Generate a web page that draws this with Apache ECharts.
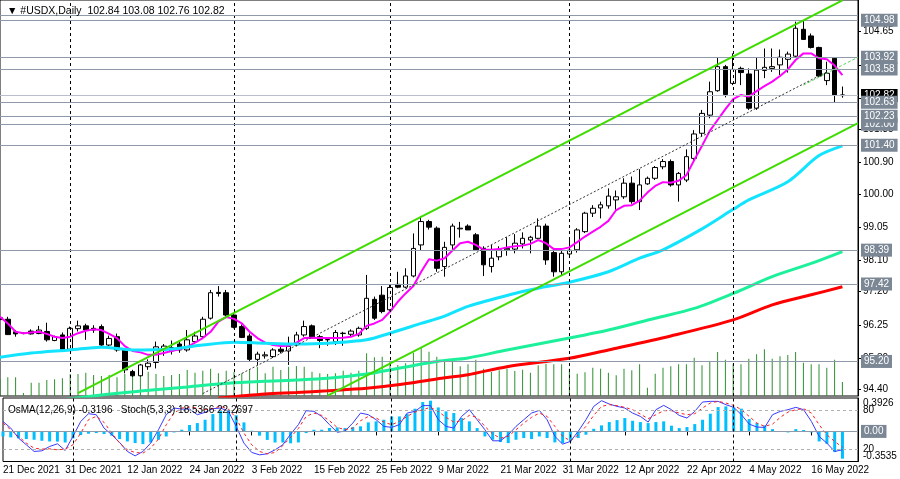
<!DOCTYPE html>
<html>
<head>
<meta charset="utf-8">
<script src="https://cdn.jsdelivr.net/npm/echarts@6/dist/echarts.min.js"></script>
<style>
html, body { margin: 0; padding: 0; background: #fff; }
#main { width: 900px; height: 479px; }
</style>
</head>
<body>
<div id="main"></div>
<script>
// trading days shown on the chart
var dec21 = [21, 22, 23, 24, 27, 28, 29, 30, 31];
var jan22 = [3, 4, 5, 6, 7, 10, 11, 12, 13, 14, 17, 18, 19, 20, 21, 24, 25, 26, 27, 28, 31];
var feb22 = [1, 2, 3, 4, 7, 8, 9, 10, 11, 14, 15, 16, 17, 18, 21, 22, 23, 24, 25, 28];
var mar22 = [1, 2, 3, 4, 7, 8, 9, 10, 11, 14, 15, 16, 17, 18, 21, 22, 23, 24, 25, 28, 29, 30, 31];
var apr22 = [1, 4, 5, 6, 7, 8, 11, 12, 13, 14, 15, 18, 19, 20, 21, 22, 25, 26, 27, 28, 29];
var may22 = [2, 3, 4, 5, 6, 9, 10, 11, 12, 13, 16, 17, 18, 19, 20];

var dates = [].concat(
    dec21.map(function (d) { return d + ' Dec 2021'; }),
    jan22.map(function (d) { return d + ' Jan 2022'; }),
    feb22.map(function (d) { return d + ' Feb 2022'; }),
    mar22.map(function (d) { return d + ' Mar 2022'; }),
    apr22.map(function (d) { return d + ' Apr 2022'; }),
    may22.map(function (d) { return d + ' May 2022'; })
);
var categories = dates.concat([' ', '  ']);   // empty room on the right

var opens = [
    96.45, 96.41, 96.05, 96.00, 96.07, 96.00, 96.06, 95.80, 95.96, 95.55,
    96.14, 96.22, 96.15, 96.20, 95.67, 95.91, 95.53, 94.91, 94.79, 95.05,
    95.17, 95.53, 95.50, 95.70, 95.53, 95.77, 95.91, 96.44, 97.18, 97.17,
    96.53, 96.20, 95.93, 95.26, 95.36, 95.34, 95.55, 95.50, 95.67, 95.96,
    96.22, 95.91, 95.82, 95.77, 96.00, 95.98, 95.96, 96.15, 96.98, 97.10,
    96.68, 97.41, 97.33, 97.65, 98.54, 99.21, 99.02, 97.92, 98.54, 99.00,
    99.08, 98.83, 98.44, 97.92, 98.20, 98.40, 98.42, 98.57, 98.68, 98.73,
    99.08, 98.32, 97.77, 98.28, 98.40, 98.92, 99.45, 99.60, 99.66, 99.83,
    99.92, 100.31, 99.78, 100.29, 100.45, 100.78, 100.93, 100.26, 100.40, 101.02,
    101.74, 102.26, 102.96, 103.65, 103.17, 103.60, 103.44, 102.46, 103.54, 103.60,
    103.70, 103.86, 103.95, 104.72, 104.53, 104.20, 103.25, 103.89, 102.84
];
var highs = [
    96.55, 96.48, 96.10, 96.03, 96.12, 96.22, 96.31, 95.94, 96.03, 96.20,
    96.37, 96.28, 96.24, 96.26, 95.94, 96.00, 95.57, 94.96, 95.13, 95.26,
    95.77, 95.70, 95.80, 95.77, 96.10, 96.05, 96.48, 97.25, 97.36, 97.25,
    96.57, 96.26, 96.00, 95.48, 95.48, 95.58, 95.64, 95.91, 96.05, 96.37,
    96.26, 95.96, 95.87, 96.10, 96.05, 96.12, 96.20, 97.68, 97.06, 97.36,
    97.40, 97.77, 97.87, 98.87, 99.37, 99.26, 99.07, 98.63, 99.15, 99.20,
    99.13, 98.88, 98.50, 98.54, 98.50, 98.76, 98.85, 98.90, 98.80, 99.30,
    99.15, 98.40, 98.40, 98.70, 99.02, 99.49, 99.68, 99.78, 100.16, 100.10,
    100.45, 100.50, 100.71, 100.50, 100.80, 101.00, 100.99, 100.63, 101.28, 101.83,
    102.41, 103.22, 103.92, 103.70, 104.03, 103.65, 103.60, 103.92, 104.17, 104.17,
    104.14, 104.08, 104.94, 104.98, 104.60, 104.22, 103.79, 103.92, 103.08
];
var lows = [
    96.30, 95.96, 95.91, 95.98, 95.97, 95.98, 95.77, 95.78, 95.53, 95.53,
    96.06, 95.82, 96.02, 95.64, 95.64, 95.48, 94.86, 94.76, 94.77, 94.96,
    95.00, 95.36, 95.40, 95.45, 95.48, 95.74, 95.86, 96.40, 97.06, 96.48,
    96.15, 95.87, 95.19, 95.10, 95.28, 95.30, 95.43, 95.10, 95.63, 95.91,
    95.87, 95.58, 95.65, 95.67, 95.65, 95.91, 95.91, 96.10, 96.39, 96.58,
    96.63, 97.30, 97.30, 97.61, 98.39, 98.98, 97.77, 97.63, 98.39, 98.75,
    98.97, 98.37, 97.65, 97.75, 98.10, 98.23, 98.30, 98.44, 98.30, 98.70,
    97.97, 97.63, 97.66, 98.25, 98.32, 98.88, 99.34, 99.30, 99.58, 99.55,
    99.86, 99.72, 99.54, 100.26, 100.40, 100.71, 100.21, 99.78, 100.34, 100.97,
    101.64, 102.17, 102.93, 102.77, 103.12, 103.12, 102.41, 102.41, 103.32, 103.50,
    103.41, 103.48, 103.90, 104.42, 104.17, 103.35, 103.12, 102.62, 102.76
];
var closes = [
    96.40, 95.97, 95.99, 96.01, 95.99, 96.10, 95.82, 95.91, 95.55, 96.15,
    96.22, 96.10, 96.10, 95.67, 95.86, 95.53, 94.96, 94.79, 95.10, 95.15,
    95.62, 95.64, 95.60, 95.53, 95.82, 95.93, 96.41, 97.17, 97.15, 96.53,
    96.18, 95.89, 95.26, 95.41, 95.39, 95.53, 95.49, 95.63, 95.96, 96.20,
    95.89, 95.80, 95.83, 96.03, 96.01, 96.07, 96.15, 97.01, 96.44, 96.63,
    97.32, 97.33, 97.65, 98.44, 99.21, 99.05, 97.87, 98.47, 99.08, 99.02,
    98.97, 98.40, 97.97, 98.16, 98.40, 98.44, 98.59, 98.73, 98.76, 99.08,
    98.11, 97.77, 98.30, 98.39, 98.97, 99.45, 99.59, 99.69, 99.94, 99.92,
    100.31, 99.78, 100.26, 100.45, 100.76, 100.93, 100.26, 100.59, 101.07, 101.72,
    102.31, 102.93, 103.65, 102.85, 103.57, 103.48, 102.46, 103.55, 103.63, 103.65,
    103.92, 104.01, 104.75, 104.43, 104.20, 103.38, 103.46, 102.84, 102.82
];
// tick volumes (relative)
var volumes = [
    17, 18.7, 18.7, 3, 13.3, 13.3, 16, 16.7, 17.7, 22,
    22, 23.3, 21, 20, 21, 18.7, 22, 22, 22, 24.3,
    22, 20, 21, 22, 26, 23.3, 25.3, 27.3, 22.7, 25.3,
    24, 22.7, 26, 29.3, 22.7, 29.3, 26, 29.3, 30, 29.3,
    24.3, 22.7, 22, 22.7, 25.3, 23.3, 25.3, 42.7, 38.7, 39.3,
    35.3, 31, 32.7, 43.3, 47.7, 44.3, 39.3, 34, 36, 29.7,
    31.7, 36.3, 27.3, 24, 25.7, 27.3, 25, 26.3, 23.3, 30.7,
    32.3, 31.7, 31.7, 27.3, 22.3, 23.7, 28.3, 27.3, 23.3, 20.7,
    27.3, 25.7, 31.7, 8.3, 22.3, 28.3, 29.7, 31.7, 31.7, 38.3,
    30.7, 34, 44, 36.3, 32.3, 31.7, 37.3, 41.7, 46.7, 37.3,
    39.7, 41, 44, 33.3, 31.7, 31.7, 28.3, 36.3, 14
];
// magenta fast MA, one value per bar
var maFast = [
    96.48, 96.29, 96.05, 96.01, 96.03, 96.05, 95.99, 95.91, 95.87, 95.91,
    96.01, 96.08, 96.12, 96.10, 95.99, 95.87, 95.64, 95.50, 95.46, 95.39,
    95.39, 95.44, 95.50, 95.55, 95.61, 95.74, 95.87, 96.05, 96.34, 96.47,
    96.42, 96.29, 96.05, 95.87, 95.74, 95.67, 95.64, 95.65, 95.74, 95.87,
    95.88, 95.87, 95.87, 95.87, 95.88, 95.91, 95.99, 96.22, 96.29, 96.39,
    96.63, 96.91, 97.15, 97.36, 97.77, 98.13, 98.09, 98.16, 98.38, 98.59,
    98.63, 98.54, 98.40, 98.40, 98.42, 98.47, 98.50, 98.52, 98.57, 98.68,
    98.59, 98.42, 98.42, 98.47, 98.62, 98.78, 98.92, 99.06, 99.23, 99.54,
    99.66, 99.68, 99.81, 100.04, 100.23, 100.34, 100.32, 100.38, 100.54, 100.97,
    101.38, 101.81, 102.12, 102.43, 102.72, 102.84, 102.79, 102.95, 103.09, 103.22,
    103.38, 103.57, 103.84, 104.03, 104.03, 103.89, 103.86, 103.68, 103.41
];
// slower MAs, read at [bar index, value]
var maMid = [[0, 95.32], [4, 95.44], [9, 95.53], [13, 95.61], [17, 95.53], [22, 95.56], [26, 95.67],
    [30, 95.75], [34, 95.72], [38, 95.70], [42, 95.72], [47, 95.82], [50, 96.01], [54, 96.29],
    [57, 96.50], [60, 96.78], [66, 97.15], [69, 97.30], [73, 97.47], [78, 97.77], [82, 98.16],
    [85, 98.40], [90, 99.00], [94, 99.56], [96, 99.83], [101, 100.35], [105, 101.10], [108, 101.38]];
var maSlow = [[8, 94.10], [13, 94.24], [18, 94.35], [24, 94.47], [30, 94.59], [38, 94.67], [42, 94.72],
    [47, 94.84], [51, 95.00], [56, 95.20], [60, 95.30], [65, 95.53], [73, 95.87], [78, 96.10],
    [84, 96.44], [89, 96.72], [94, 97.15], [99, 97.63], [104, 98.01], [108, 98.35]];
var maLong = [[28, 94.15], [34, 94.27], [38, 94.31], [42, 94.36], [47, 94.43], [51, 94.53], [56, 94.70],
    [60, 94.82], [65, 95.05], [73, 95.29], [78, 95.53], [86, 95.93], [94, 96.39], [99, 96.82],
    [104, 97.11], [108, 97.34]];

var osma = [
    -0.06, -0.07, -0.082, -0.09, -0.098, -0.11, -0.118, -0.12, -0.13, -0.082,
    -0.043, -0.027, -0.02, -0.031, -0.05, -0.09, -0.118, -0.137, -0.149, -0.13,
    -0.098, -0.059, -0.012, 0.02, 0.075, 0.098, 0.137, 0.204, 0.243, 0.255,
    0.19, 0.106, 0.008, -0.05, -0.10, -0.13, -0.13, -0.14, -0.13, -0.02,
    0.02, 0.02, 0.04, 0.047, 0.04, 0.05, 0.06, 0.106, 0.118, 0.137,
    0.176, 0.176, 0.204, 0.267, 0.345, 0.361, 0.282, 0.235, 0.216, 0.157,
    0.118, 0.039, -0.059, -0.098, -0.125, -0.137, -0.098, -0.078, -0.09, -0.059,
    -0.078, -0.129, -0.14, -0.118, -0.078, -0.039, 0.031, 0.071, 0.110, 0.133,
    0.157, 0.125, 0.110, 0.098, 0.110, 0.118, 0.067, 0.039, 0.051, 0.086,
    0.137, 0.208, 0.286, 0.294, 0.282, 0.267, 0.145, 0.098, 0.071, 0.027,
    0.003, -0.012, 0.027, 0.016, -0.012, -0.118, -0.145, -0.243, -0.32
];
var stochMain = [
    63, 52.6, 36.8, 26.3, 15.8, 16.8, 23.7, 27.9, 17.4, 39.5,
    63, 75.3, 73.7, 52.6, 42.1, 30, 15.8, 8.9, 15.8, 28.9,
    50, 73.7, 84.2, 82.6, 82.6, 73.7, 77.4, 83.2, 84.2, 78.9,
    55.3, 28.9, 14.2, 10.5, 12.1, 18.4, 26.3, 43, 58, 80,
    79, 71, 58, 46, 48, 60.5, 76.3, 73.7, 65.8, 55.3,
    53.7, 58, 76.3, 79, 88, 88, 65.8, 55.3, 52.6, 71,
    81.6, 65.8, 50, 32.6, 32.6, 42, 55.3, 65.8, 76.3, 80.5,
    65.8, 39.5, 27.4, 31.6, 47.4, 65.8, 86.8, 95.8, 90.5, 86.8,
    84.2, 76.3, 71, 62.1, 81.6, 88.4, 81.6, 72.6, 68.4, 78.9,
    93.7, 94.7, 94.7, 89.5, 85.3, 73.7, 58.9, 54.2, 53.7, 73.7,
    78.9, 81.6, 85.3, 81.6, 63.2, 39.5, 28.9, 15.8, 18.5
];
var stochSignal = [
    60.5, 50, 39.5, 28.9, 21, 19.5, 20, 18.4, 19.5, 26.3,
    44.7, 65.8, 71, 61.6, 44.7, 28.9, 18.4, 14.2, 13.2, 21,
    35.3, 57.9, 76.3, 84.2, 85.8, 84.2, 81.6, 83.7, 86.8, 82.6,
    68.4, 44.7, 26.3, 15.8, 12.1, 14.2, 25, 38, 52, 71,
    76.3, 72.6, 64.2, 53.7, 50, 52.6, 64.2, 71, 68.4, 62.1,
    57.9, 63.2, 71, 77.9, 81.6, 85.3, 78.9, 69.5, 62.1, 64.2,
    72.6, 69.5, 55.3, 43.2, 36.8, 39.5, 50, 60.5, 69.5, 76.3,
    71, 55.3, 39.5, 32.6, 42, 55.3, 72.6, 86.8, 89.5, 87.9,
    85.3, 81.6, 74.7, 67.4, 73.7, 80, 80, 76.3, 73.7, 75.3,
    84.2, 92.1, 94.7, 92.1, 88.4, 81.6, 71, 60.5, 55.3, 58.9,
    69.5, 77.9, 81.6, 83.2, 76.3, 57.9, 42, 31.6, 22.3
];

var priceTicks = [94.40, 95.30, 96.25, 97.20, 98.10, 99.05, 100.00, 100.90, 101.85, 102.75, 103.70, 104.65];
// drawn in this order, later boxes sit on top
var levels = [104.98, 103.92, 103.58, 102.00, 102.23, 101.40, 98.39, 97.42, 95.20];
var plainLevels = [105.12];
var bidPrice = 102.82;
var lowBox = 102.63;
var monthStarts = ['3 Jan 2022', '1 Feb 2022', '1 Mar 2022', '1 Apr 2022', '2 May 2022'];
// trend lines: [bar index, price]
var channelUpper = [[10, 94.29], [108, 105.55]];
var channelLower = [[42, 94.22], [110, 102.03]];
var channelMid = [[26, 94.28], [106, 103.50]];
var channelMidRay = [[103, 103.12], [110, 103.92]];

var FONT = 'Liberation Sans';
var LEVEL_GREY = '#8e9aa9';
var BOX_GREY = '#7b8795';

var candles = opens.map(function (o, i) { return [o, closes[i], lows[i], highs[i]]; });

function boxLabel(v, bg) {
    return {
        show: true, position: 'end', distance: 3,
        formatter: v.toFixed(2), color: '#fff', backgroundColor: bg,
        padding: [2, 3, 1, 3], fontSize: 10, fontFamily: FONT
    };
}
function level(v, color, bg) {
    return {
        yAxis: v, lineStyle: { color: color, width: 1, type: 'solid' },
        label: bg ? boxLabel(v, bg) : { show: false }
    };
}
function seg(pts, style) {
    return [{ coord: pts[0], lineStyle: style }, { coord: pts[1] }];
}

var priceMarks = []
    .concat(monthStarts.map(function (d) {
        return { xAxis: d, lineStyle: { color: '#000', width: 1, type: [3, 3] }, label: { show: false } };
    }))
    .concat(plainLevels.map(function (v) { return level(v, LEVEL_GREY, null); }))
    .concat([level(bidPrice, '#b8bfc8', '#000'), level(lowBox, LEVEL_GREY, BOX_GREY)])
    .concat(levels.map(function (v) { return level(v, LEVEL_GREY, BOX_GREY); }))
    .concat([
        seg(channelUpper, { color: '#3fdc00', width: 2, type: 'solid' }),
        seg(channelLower, { color: '#3fdc00', width: 2, type: 'solid' }),
        seg(channelMid, { color: '#333', width: 1, type: [2, 2] }),
        seg(channelMidRay, { color: '#5fd35f', width: 1, type: [3, 2] })
    ]);

var myChart = echarts.init(document.getElementById('main'));
myChart.setOption({
    animation: false,
    backgroundColor: '#fff',
    textStyle: { fontFamily: FONT },
    title: [{
        text: '\u25BC #USDX,Daily  102.84 103.08 102.76 102.82',
        left: 2, top: 1,
        textStyle: { fontSize: 10.5, fontWeight: 'normal', color: '#000', fontFamily: FONT }
    }, {
        text: 'OsMA(12,26,9) -0.3196   Stoch(5,3,3) 18.5366 22.2697',
        left: 3, top: 400,
        textStyle: { fontSize: 10, fontWeight: 'normal', color: '#000', fontFamily: FONT }
    }],
    grid: [
        { left: 0, right: 42, top: 0, height: 396, show: true, borderColor: '#000', borderWidth: 1 },
        { left: 0, right: 42, top: 398, height: 63.5, show: true, borderColor: '#000', borderWidth: 1 }
    ],
    xAxis: [{
        type: 'category', gridIndex: 0, data: categories, boundaryGap: false,
        axisLine: { show: false }, axisTick: { show: false }, axisLabel: { show: false }, splitLine: { show: false }
    }, {
        type: 'category', gridIndex: 1, data: categories, boundaryGap: false,
        axisLine: { show: false },
        axisTick: { show: true, interval: 7, length: 4, lineStyle: { color: '#000' } },
        axisLabel: { interval: 7, align: 'left', margin: 4, color: '#000', fontSize: 10, fontFamily: FONT },
        splitLine: { show: false }
    }],
    yAxis: [{
        type: 'value', gridIndex: 0, position: 'right', min: 94.21, max: 105.56,
        axisLine: { show: true, lineStyle: { color: '#000' } },
        axisTick: { show: true, length: 3, customValues: priceTicks, lineStyle: { color: '#000' } },
        axisLabel: {
            customValues: priceTicks, margin: 5, color: '#000', fontSize: 10, fontFamily: FONT,
            formatter: function (v) { return v.toFixed(2); }
        },
        splitLine: { show: false }
    }, {
        type: 'value', gridIndex: 0, min: 0, max: 396, show: false
    }, {
        type: 'value', gridIndex: 1, position: 'right', min: -0.3535, max: 0.3926,
        axisLine: { show: true, lineStyle: { color: '#000' } },
        axisTick: { show: false },
        axisLabel: {
            customValues: [-0.3535, 0.3926], margin: 5, color: '#000', fontSize: 10, fontFamily: FONT,
            verticalAlignMinLabel: 'bottom', verticalAlignMaxLabel: 'top',
            formatter: function (v) { return v.toFixed(4); }
        },
        splitLine: { show: false }
    }, {
        type: 'value', gridIndex: 1, position: 'right', min: 0, max: 100,
        axisLine: { show: false }, axisTick: { show: false },
        axisLabel: { customValues: [20, 80], margin: 5, color: '#000', fontSize: 10, fontFamily: FONT },
        splitLine: { show: false }
    }],
    series: [{
        name: 'Volumes', type: 'bar', xAxisIndex: 0, yAxisIndex: 1,
        data: volumes, barWidth: 1, z: 1,
        itemStyle: { color: '#2f8f2f' }
    }, {
        name: 'USDX', type: 'candlestick', xAxisIndex: 0, yAxisIndex: 0,
        data: candles, barWidth: 5, z: 3,
        itemStyle: { color: '#fff', color0: '#000', borderColor: '#000', borderColor0: '#000', borderWidth: 1 },
        markLine: { silent: true, symbol: ['none', 'none'], animation: false, data: priceMarks }
    }, {
        name: 'MA fast', type: 'line', xAxisIndex: 0, yAxisIndex: 0, data: maFast,
        symbol: 'none', z: 4, lineStyle: { color: '#ff00ff', width: 2 }
    }, {
        name: 'MA mid', type: 'line', xAxisIndex: 0, yAxisIndex: 0, data: maMid, smooth: 0.3,
        symbol: 'none', z: 4, lineStyle: { color: '#12e4ff', width: 3 }
    }, {
        name: 'MA slow', type: 'line', xAxisIndex: 0, yAxisIndex: 0, data: maSlow, smooth: 0.3,
        symbol: 'none', z: 4, lineStyle: { color: '#1cf09a', width: 3 }
    }, {
        name: 'MA long', type: 'line', xAxisIndex: 0, yAxisIndex: 0, data: maLong, smooth: 0.3,
        symbol: 'none', z: 4, lineStyle: { color: '#ff0000', width: 3 }
    }, {
        name: 'OsMA', type: 'bar', xAxisIndex: 1, yAxisIndex: 2,
        data: osma, barWidth: 3, z: 2,
        itemStyle: { color: '#00bfff' },
        markLine: {
            silent: true, symbol: ['none', 'none'], animation: false,
            data: [{ yAxis: 0, lineStyle: { color: LEVEL_GREY, width: 1, type: 'solid' }, label: boxLabel(0, BOX_GREY) }]
                .concat(monthStarts.map(function (d) {
                    return { xAxis: d, lineStyle: { color: '#000', width: 1, type: [3, 3] }, label: { show: false } };
                }))
        }
    }, {
        name: 'Stoch', type: 'line', xAxisIndex: 1, yAxisIndex: 3, data: stochMain,
        symbol: 'none', z: 4, lineStyle: { color: '#3a3aff', width: 1 }
    }, {
        name: 'Signal', type: 'line', xAxisIndex: 1, yAxisIndex: 3, data: stochSignal,
        symbol: 'none', z: 4, lineStyle: { color: '#ff2020', width: 1, type: [3, 3] },
        markLine: {
            silent: true, symbol: ['none', 'none'], animation: false,
            data: [
                { yAxis: 80, lineStyle: { color: '#b0b0b0', width: 1, type: [3, 3] }, label: { show: false } },
                { yAxis: 20, lineStyle: { color: '#b0b0b0', width: 1, type: [3, 3] }, label: { show: false } }
            ]
        }
    }]
});
</script>
</body>
</html>
